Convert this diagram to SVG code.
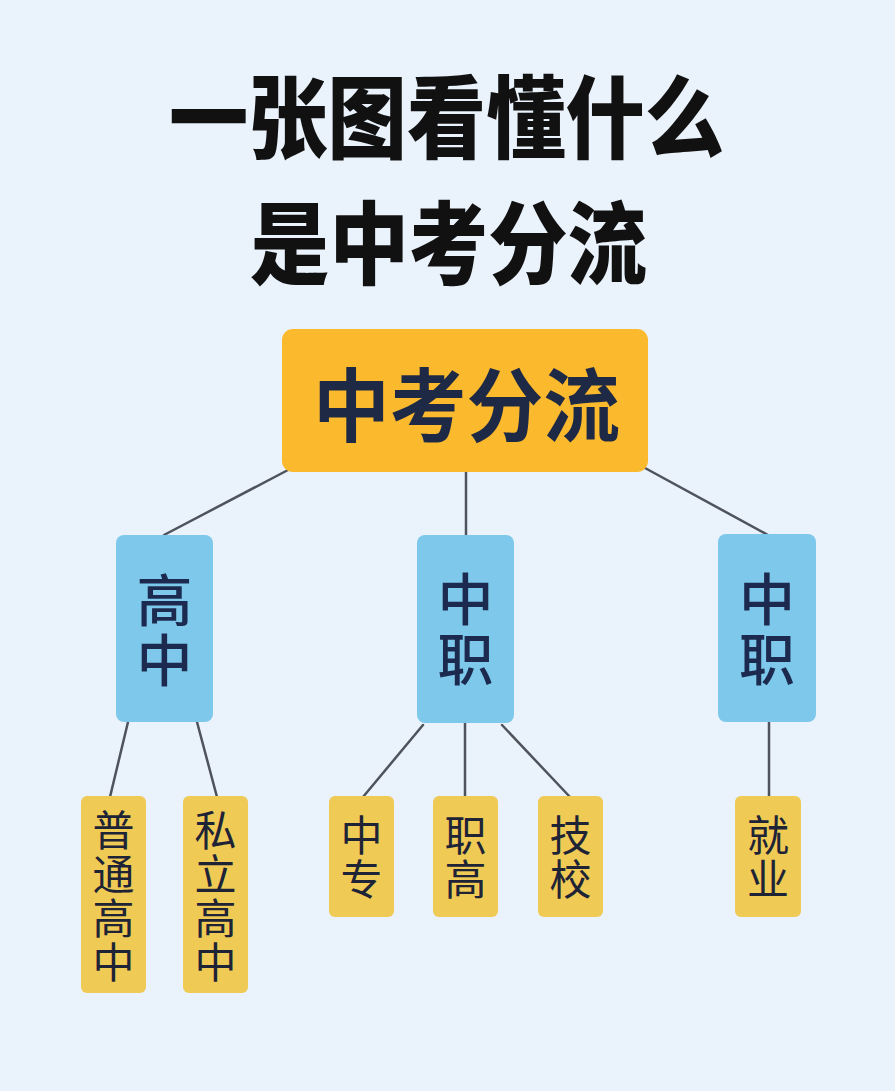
<svg xmlns="http://www.w3.org/2000/svg" width="895" height="1091" viewBox="0 0 895 1091">
<style>
.title{font-family:"Noto Sans CJK SC","Noto Sans",sans-serif;font-weight:900;fill:#111111;}
.root{fill:#FBB92E;}
.mid{fill:#7EC9EB;}
.leaf{fill:#EFCA55;}
.rt{font-family:"Noto Sans CJK SC",sans-serif;font-weight:700;font-size:80px;fill:#1E2946;}
.vt{writing-mode:vertical-rl;text-orientation:upright;text-anchor:middle;font-family:"Noto Sans CJK SC",sans-serif;}
.mt{font-weight:500;font-size:56px;letter-spacing:4px;fill:#1B2A4E;}
.lt{font-weight:400;font-size:42px;letter-spacing:2px;fill:#1E2436;}
.conn line{stroke:#4E535C;stroke-width:2.5;stroke-linecap:round;}
</style>
<rect width="895" height="1091" fill="#EAF2FC"/>
<g id="title">
<text class="title" x="169" y="151" font-size="90" textLength="555" lengthAdjust="spacingAndGlyphs">一张图看懂什么</text>
<text class="title" x="250" y="277" font-size="90" textLength="397" lengthAdjust="spacingAndGlyphs">是中考分流</text>
</g>
<g id="connectors" class="conn">
<line x1="288" y1="470" x2="164" y2="535"/>
<line x1="466" y1="472" x2="466" y2="535"/>
<line x1="645" y1="468" x2="768" y2="535"/>
<line x1="128" y1="722" x2="110" y2="797"/>
<line x1="197" y1="722" x2="217" y2="797"/>
<line x1="423" y1="725" x2="363" y2="797"/>
<line x1="465" y1="723" x2="465" y2="797"/>
<line x1="502" y1="725" x2="570" y2="797"/>
<line x1="769" y1="722" x2="769" y2="797"/>
</g>
<g id="node-root">
<rect class="root" x="282" y="329" width="366" height="143" rx="11"/>
<text class="rt" x="313" y="435" textLength="307" lengthAdjust="spacingAndGlyphs">中考分流</text>
</g>
<g id="node-gaozhong">
<rect class="mid" x="116" y="535" width="97" height="187" rx="8"/>
<text class="vt mt" x="164.5" y="632">高中</text>
</g>
<g id="node-zhongzhi-1">
<rect class="mid" x="417" y="535" width="97" height="188" rx="8"/>
<text class="vt mt" x="465.5" y="631">中职</text>
</g>
<g id="node-zhongzhi-2">
<rect class="mid" x="718" y="534" width="98" height="188" rx="8"/>
<text class="vt mt" x="767" y="631">中职</text>
</g>
<g id="node-putong">
<rect class="leaf" x="81" y="796" width="65" height="197" rx="6"/>
<text class="vt lt" x="113.5" y="897">普通高中</text>
</g>
<g id="node-sili">
<rect class="leaf" x="183" y="796" width="65" height="197" rx="6"/>
<text class="vt lt" x="215.5" y="897">私立高中</text>
</g>
<g id="node-zhongzhuan">
<rect class="leaf" x="329" y="796" width="65" height="121" rx="6"/>
<text class="vt lt" x="361.5" y="858">中专</text>
</g>
<g id="node-zhigao">
<rect class="leaf" x="433" y="796" width="65" height="121" rx="6"/>
<text class="vt lt" x="465.5" y="858">职高</text>
</g>
<g id="node-jixiao">
<rect class="leaf" x="538" y="796" width="65" height="121" rx="6"/>
<text class="vt lt" x="570.5" y="858">技校</text>
</g>
<g id="node-jiuye">
<rect class="leaf" x="735" y="796" width="66" height="121" rx="6"/>
<text class="vt lt" x="768" y="858">就业</text>
</g>
</svg>
